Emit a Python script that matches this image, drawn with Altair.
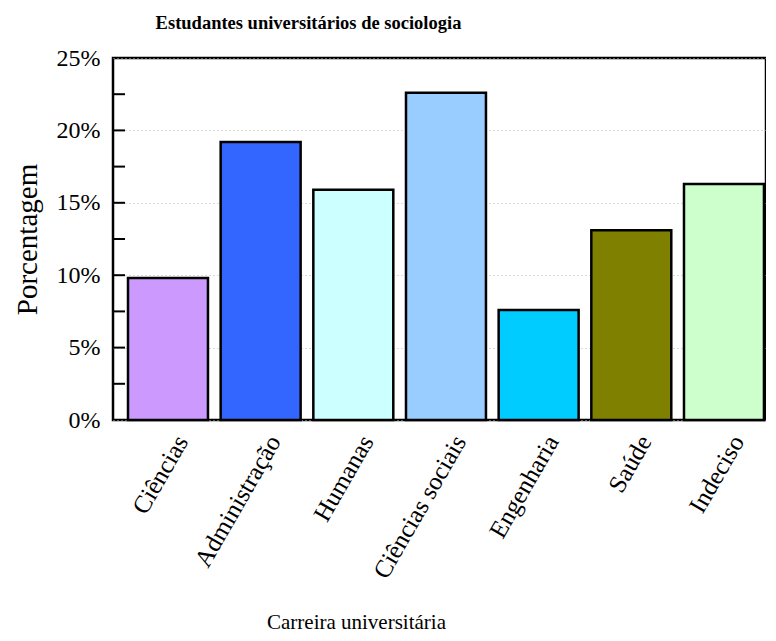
import altair as alt
import pandas as pd

categorias = ["Ciências", "Administração", "Humanas", "Ciências sociais",
              "Engenharia", "Saúde", "Indeciso"]
porcentagens = [9.8, 19.2, 15.9, 22.6, 7.6, 13.1, 16.3]
cores = ["#cc99ff", "#3366ff", "#ccffff", "#99ccff", "#00ccff", "#808000", "#ccffcc"]
marcas_y = [2.5, 5, 7.5, 10, 12.5, 15, 17.5, 20, 22.5]

df = pd.DataFrame({"categoria": categorias, "valor": porcentagens})
df_ticks = pd.DataFrame({"t": marcas_y})

FONT = "Liberation Serif"

yscale = alt.Scale(domain=[0, 25], nice=False)

bars = alt.Chart(df).mark_bar(stroke="black", strokeWidth=2.5).encode(
    x=alt.X("categoria:N", sort=categorias,
            scale=alt.Scale(paddingInner=0.137, paddingOuter=0.092, align=0.88),
            title="Carreira universitária",
            axis=alt.Axis(labelAngle=300, ticks=False, domain=False, grid=False,
                          labelFontSize=25, labelColor="black", labelPadding=17,
                          labelOffset=14,
                          titleFontSize=21, titleFontWeight="normal", titleColor="black",
                          titleX=243, titleY=208, titleAlign="center",
                          titleBaseline="alphabetic")),
    y=alt.Y("valor:Q", scale=yscale, title="Porcentagem",
            axis=alt.Axis(values=[0, 5, 10, 15, 20, 25], ticks=False,
                          labelExpr="datum.value + '%'",
                          labelFontSize=24, labelColor="black", labelPadding=13,
                          domain=False,
                          grid=True, gridColor="#b8b8b8", gridDash=[1, 3], gridWidth=1,
                          titleFontSize=29, titleFontWeight="normal", titleColor="black",
                          titlePadding=14)),
    color=alt.Color("categoria:N", scale=alt.Scale(domain=categorias, range=cores),
                    legend=None),
)

ticks = alt.Chart(df_ticks).mark_rule(color="black", strokeWidth=2).encode(
    y=alt.Y("t:Q", scale=yscale),
    x=alt.value(0),
    x2=alt.value(12),
)

chart = alt.layer(bars, ticks).properties(
    width=653, height=362,
    padding={"left": 5, "top": 5, "right": 0, "bottom": 0},
    title=alt.TitleParams("Estudantes universitários de sociologia",
                          fontSize=18.5, fontWeight="bold", font=FONT,
                          color="black", offset=14, anchor="middle", dx=-131),
).configure(font=FONT).configure_view(stroke="black", strokeWidth=2.5)

chart.save("out.html", embed_options={"renderer": "svg", "actions": False})
